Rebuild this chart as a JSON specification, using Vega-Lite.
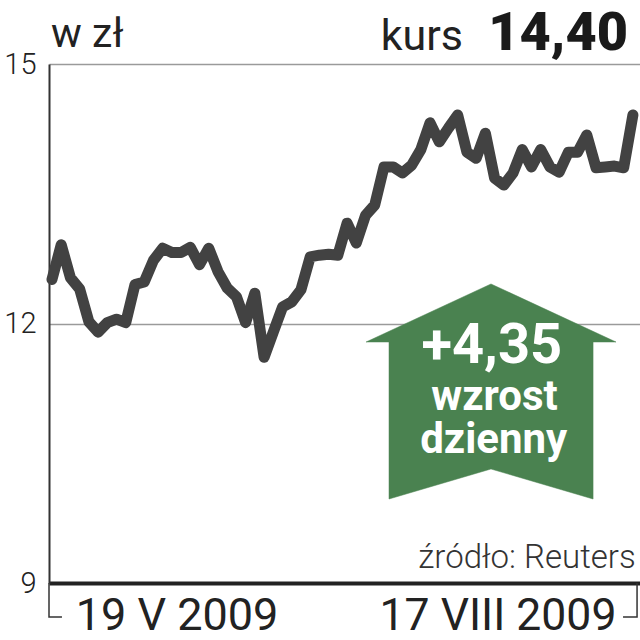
{
"$schema":"https://vega.github.io/schema/vega-lite/v6.json",
"width":591,"height":519,
"autosize":{"type":"none"},
"padding":{"left":49,"top":64,"right":0,"bottom":57},
"background":"white",
"config":{"view":{"stroke":null},"text":{"font":"Roboto"}},
"datasets":{
"kurs":[
{"session":0,"price":12.51},{"session":1,"price":12.91},{"session":2,"price":12.53},{"session":3,"price":12.40},{"session":4,"price":12.02},{"session":5,"price":11.90},{"session":6,"price":12.01},{"session":7,"price":12.05},{"session":8,"price":12.01},{"session":9,"price":12.45},{"session":10,"price":12.48},{"session":11,"price":12.73},{"session":12,"price":12.87},{"session":13,"price":12.82},{"session":14,"price":12.82},{"session":15,"price":12.88},{"session":16,"price":12.68},{"session":17,"price":12.87},{"session":18,"price":12.60},{"session":19,"price":12.41},{"session":20,"price":12.31},{"session":21,"price":12.01},{"session":22,"price":12.35},{"session":23,"price":11.61},{"session":24,"price":11.90},{"session":25,"price":12.19},{"session":26,"price":12.25},{"session":27,"price":12.39},{"session":28,"price":12.77},{"session":29,"price":12.79},{"session":30,"price":12.80},{"session":31,"price":12.79},{"session":32,"price":13.16},{"session":33,"price":12.93},{"session":34,"price":13.25},{"session":35,"price":13.37},{"session":36,"price":13.81},{"session":37,"price":13.81},{"session":38,"price":13.74},{"session":39,"price":13.83},{"session":40,"price":14.01},{"session":41,"price":14.32},{"session":42,"price":14.10},{"session":43,"price":14.26},{"session":44,"price":14.41},{"session":45,"price":13.98},{"session":46,"price":13.91},{"session":47,"price":14.20},{"session":48,"price":13.68},{"session":49,"price":13.60},{"session":50,"price":13.74},{"session":51,"price":14.01},{"session":52,"price":13.81},{"session":53,"price":14.01},{"session":54,"price":13.81},{"session":55,"price":13.75},{"session":56,"price":13.98},{"session":57,"price":13.98},{"session":58,"price":14.18},{"session":59,"price":13.80},{"session":60,"price":13.81},{"session":61,"price":13.82},{"session":62,"price":13.80},{"session":63,"price":14.41}
],
"arrow":[
{"n":1,"session":47.61,"price":12.457},
{"n":2,"session":61.17,"price":11.786},
{"n":3,"session":58.68,"price":11.786},
{"n":4,"session":58.68,"price":9.971},
{"n":5,"session":47.61,"price":10.318},
{"n":6,"session":36.55,"price":9.971},
{"n":7,"session":36.55,"price":11.786},
{"n":8,"session":34.06,"price":11.786},
{"n":9,"session":47.61,"price":12.457}
],
"bracket":[
{"side":"start","n":1,"session":-0.325,"price":9},
{"side":"start","n":2,"session":-0.325,"price":8.607},
{"side":"start","n":3,"session":1.08,"price":8.607},
{"side":"end","n":1,"session":63.45,"price":9},
{"side":"end","n":2,"session":63.45,"price":8.607},
{"side":"end","n":3,"session":61.93,"price":8.607}
]
},
"layer":[
{"data":{"name":"kurs"},"mark":{"type":"line","color":"#424242","strokeWidth":11,"strokeJoin":"round","strokeCap":"round"},
"encoding":{
"x":{"field":"session","type":"quantitative","scale":{"domain":[-0.325,63.77],"nice":false,"zero":false},"axis":{"title":null,"labels":false,"ticks":false,"grid":false,"domain":true,"domainColor":"#222222","domainWidth":4}},
"y":{"field":"price","type":"quantitative","scale":{"domain":[9,15],"nice":false,"zero":false},"axis":{"title":null,"values":[9,12,15],"format":"d","ticks":false,"grid":true,"gridColor":"#9a9a9a","gridWidth":1.5,"domainColor":"#333333","domainWidth":2,"labelFontSize":29,"labelFontWeight":300,"labelFont":"Roboto","labelColor":"#222222","labelPadding":13,"labelAlign":"right"}}
}},
{"data":{"name":"arrow"},"mark":{"type":"line","fill":"#4a8250","stroke":"#4a8250","strokeWidth":0.5},
"encoding":{"x":{"field":"session","type":"quantitative"},"y":{"field":"price","type":"quantitative"},"order":{"field":"n","type":"quantitative"}}},
{"data":{"name":"bracket"},"mark":{"type":"line","color":"#333333","strokeWidth":1.5,"clip":false},
"encoding":{"x":{"field":"session","type":"quantitative"},"y":{"field":"price","type":"quantitative"},"detail":{"field":"side"},"order":{"field":"n","type":"quantitative"}}},
{"data":{"values":[{"t":"w zł"}]},"mark":{"type":"text","fontSize":41,"align":"left","baseline":"alphabetic","color":"#222222"},
"encoding":{"x":{"datum":-0.1,"type":"quantitative"},"y":{"datum":15.197,"type":"quantitative"},"text":{"field":"t"}}},
{"data":{"values":[{"t":"kurs"}]},"mark":{"type":"text","fontSize":43,"align":"right","baseline":"alphabetic","color":"#222222"},
"encoding":{"x":{"datum":44.58,"type":"quantitative"},"y":{"datum":15.162,"type":"quantitative"},"text":{"field":"t"}}},
{"data":{"values":[{"t":"14,40"}]},"mark":{"type":"text","fontSize":54,"fontWeight":900,"align":"right","baseline":"alphabetic","color":"#1a1a1a"},
"encoding":{"x":{"datum":62.47,"type":"quantitative"},"y":{"datum":15.162,"type":"quantitative"},"text":{"field":"t"}}},
{"data":{"values":[{"t":"19 V 2009"}]},"mark":{"type":"text","fontSize":45,"align":"center","baseline":"alphabetic","color":"#222222"},
"encoding":{"x":{"datum":13.56,"type":"quantitative"},"y":{"datum":8.457,"type":"quantitative"},"text":{"field":"t"}}},
{"data":{"values":[{"t":"17 VIII 2009"}]},"mark":{"type":"text","fontSize":44.5,"align":"center","baseline":"alphabetic","color":"#222222"},
"encoding":{"x":{"datum":48.37,"type":"quantitative"},"y":{"datum":8.457,"type":"quantitative"},"text":{"field":"t"}}},
{"data":{"values":[{"t":"+4,35"}]},"mark":{"type":"text","fontSize":56,"fontWeight":"bold","align":"center","baseline":"alphabetic","color":"white"},
"encoding":{"x":{"datum":47.7,"type":"quantitative"},"y":{"datum":11.54,"type":"quantitative"},"text":{"field":"t"}}},
{"data":{"values":[{"t":"wzrost"}]},"mark":{"type":"text","fontSize":42,"fontWeight":"bold","align":"center","baseline":"alphabetic","color":"white"},
"encoding":{"x":{"datum":48.0,"type":"quantitative"},"y":{"datum":11.0,"type":"quantitative"},"text":{"field":"t"}}},
{"data":{"values":[{"t":"dzienny"}]},"mark":{"type":"text","fontSize":42,"fontWeight":"bold","align":"center","baseline":"alphabetic","color":"white"},
"encoding":{"x":{"datum":47.9,"type":"quantitative"},"y":{"datum":10.5,"type":"quantitative"},"text":{"field":"t"}}},
{"data":{"values":[{"t":"źródło: Reuters"}]},"mark":{"type":"text","fontSize":33,"fontWeight":300,"align":"right","baseline":"alphabetic","color":"#333333"},
"encoding":{"x":{"datum":63.3,"type":"quantitative"},"y":{"datum":9.173,"type":"quantitative"},"text":{"field":"t"}}}
]
}
